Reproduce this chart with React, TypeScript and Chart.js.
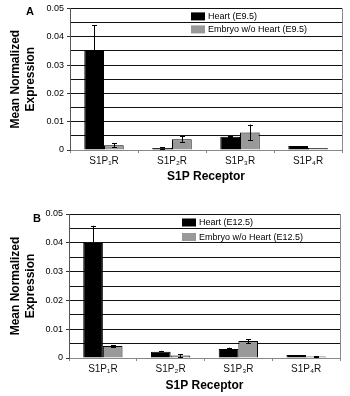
import React, { useEffect, useRef } from "react";
import { Chart, registerables } from "chart.js";
Chart.register(...registerables);

const categories = ["S1P₁R", "S1P₂R", "S1P₃R", "S1P₄R"];

const heartA = [0.0353, 0.0007, 0.0047, 0.0014];
const heartErrA = [0.0087, 0.0003, 0.0002, 0];
const embryoA = [0.0017, 0.0038, 0.0062, 0.0007];
const embryoErrA = [0.0006, 0.0011, 0.0028, 0];

const heartB = [0.0399, 0.0022, 0.0031, 0.001];
const heartErrB = [0.006, 0.0003, 0.0005, 0];
const embryoB = [0.0042, 0.0009, 0.0059, 0.0005];
const embryoErrB = [0.0003, 0.0005, 0.0007, 0.0002];

const seriesLabelsA = ["Heart (E9.5)", "Embryo w/o Heart (E9.5)"];
const seriesLabelsB = ["Heart (E12.5)", "Embryo w/o Heart (E12.5)"];

const FONT = "'Liberation Sans', Arial, Helvetica, sans-serif";

const isMajor = (v: number) => {
  const h = v * 100;
  return Math.abs(h - Math.round(h)) < 1e-6;
};

const errorBarPlugin = {
  id: "errorBars",
  afterDatasetsDraw(chart: any) {
    const ctx = chart.ctx;
    const ys = chart.scales.y;
    ctx.save();
    ctx.strokeStyle = "#000";
    ctx.lineWidth = 1;
    chart.data.datasets.forEach((ds: any, i: number) => {
      const meta = chart.getDatasetMeta(i);
      meta.data.forEach((el: any, j: number) => {
        const e = ds.errors[j];
        if (!e) return;
        const v = ds.data[j];
        const x = Math.round(el.x) + 0.5;
        const yt = ys.getPixelForValue(v + e);
        const yb = ys.getPixelForValue(Math.max(0, v - e));
        ctx.beginPath();
        ctx.moveTo(x, yt);
        ctx.lineTo(x, yb);
        ctx.moveTo(x - 2.5, Math.round(yt) + 0.5);
        ctx.lineTo(x + 2.5, Math.round(yt) + 0.5);
        ctx.moveTo(x - 2.5, Math.round(yb) + 0.5);
        ctx.lineTo(x + 2.5, Math.round(yb) + 0.5);
        ctx.stroke();
      });
    });
    ctx.restore();
  },
};

const decorPlugin = {
  id: "decor",
  afterDraw(chart: any, _args: any, opts: any) {
    const ctx = chart.ctx;
    const ca = chart.chartArea;
    ctx.save();
    ctx.strokeStyle = "#888";
    ctx.lineWidth = 1;
    ctx.beginPath();
    ctx.moveTo(Math.round(ca.right) + 0.5, ca.top);
    ctx.lineTo(Math.round(ca.right) + 0.5, ca.bottom);
    ctx.stroke();
    ctx.font = `9px ${FONT}`;
    ctx.textBaseline = "middle";
    ctx.textAlign = "left";
    chart.data.datasets.forEach((ds: any, i: number) => {
      const cy = ca.top + opts.rows[i];
      const sx = ca.left + opts.offX;
      ctx.fillStyle = ds.backgroundColor;
      ctx.fillRect(sx, cy - 4, 14, 8);
      ctx.fillStyle = "#000";
      ctx.fillText(ds.label, sx + 17, cy + 0.5);
    });
    ctx.font = `bold 11px ${FONT}`;
    ctx.textBaseline = "alphabetic";
    ctx.fillText(opts.letter, opts.letterX, opts.letterY);
    ctx.restore();
  },
};

function Panel(p: any) {
  const ref = useRef<HTMLCanvasElement>(null);
  useEffect(() => {
    const chart = new Chart(ref.current as HTMLCanvasElement, {
      type: "bar",
      data: {
        labels: categories,
        datasets: [
          { label: p.labels[0], data: p.heart, errors: p.heartErr, backgroundColor: "#000", borderColor: "#000", borderWidth: 1, categoryPercentage: 0.58, barPercentage: 1 } as any,
          { label: p.labels[1], data: p.embryo, errors: p.embryoErr, backgroundColor: "#999", borderColor: "#000", borderWidth: 1, categoryPercentage: 0.58, barPercentage: 1 } as any,
        ],
      },
      options: {
        responsive: false,
        animation: false,
        layout: { padding: { left: 0, right: 350 - p.right, top: p.padTop, bottom: p.padBottom } },
        plugins: {
          legend: { display: false },
          tooltip: { enabled: false },
          decor: { offX: p.legOffX, rows: p.legRows, letter: p.letter, letterX: p.letterX, letterY: p.letterY },
        } as any,
        scales: {
          x: {
            grid: { display: true, drawOnChartArea: false, tickLength: 3, color: "#888", offset: true },
            border: { color: "#888" },
            ticks: { font: { family: FONT, size: 10 }, color: "#111", padding: 2, maxRotation: 0 },
            title: { display: true, text: "S1P Receptor", color: "#000", font: { family: FONT, size: 12, weight: "bold" }, padding: { top: 0, bottom: p.xTitlePad } },
            afterFit: (s: any) => { s.height = p.xH; },
          },
          y: {
            min: 0,
            max: 0.05,
            grid: {
              color: (c: any) => (c.tick && c.tick.value === 0 ? "#999" : "#111"),
              tickColor: (c: any) => (c.tick && isMajor(c.tick.value) ? "#333" : "rgba(0,0,0,0)"),
              drawTicks: true,
              tickLength: 3,
              lineWidth: 1,
            },
            border: { color: "#555" },
            ticks: {
              stepSize: 0.005,
              autoSkip: false,
              padding: 3,
              color: "#000",
              font: { family: FONT, size: 9 },
              callback: (v: any) => (isMajor(v) ? String(Math.round(v * 100) / 100) : ""),
            },
            title: { display: true, text: ["Mean Normalized", "Expression"], color: "#000", font: { family: FONT, size: 12, weight: "bold", lineHeight: 1.25 }, padding: { top: 8.5, bottom: 0 } },
            afterFit: (s: any) => { s.width = p.left; },
          },
        },
      },
      plugins: [errorBarPlugin, decorPlugin],
    });
    return () => chart.destroy();
  }, []);
  return (
    <canvas
      ref={ref}
      width={350}
      height={p.height}
      style={{ position: "absolute", left: 0, top: p.top, width: 350, height: p.height, display: "block" }}
    />
  );
}

export default function App() {
  return (
    <div style={{ position: "absolute", left: 0, top: 0, width: 350, height: 396, background: "#fff" }}>
      <Panel
        top={0} height={196} left={70} right={342} padTop={7} padBottom={9} xH={37} xTitlePad={3}
        heart={heartA} heartErr={heartErrA} embryo={embryoA} embryoErr={embryoErrA} labels={seriesLabelsA}
        legOffX={121} legRows={[8, 21]} letter="A" letterX={26} letterY={14.5}
      />
      <Panel
        top={196} height={200} left={69} right={340} padTop={18} padBottom={0} xH={38} xTitlePad={3}
        heart={heartB} heartErr={heartErrB} embryo={embryoB} embryoErr={embryoErrB} labels={seriesLabelsB}
        legOffX={113} legRows={[8.5, 23]} letter="B" letterX={33} letterY={26}
      />
    </div>
  );
}
